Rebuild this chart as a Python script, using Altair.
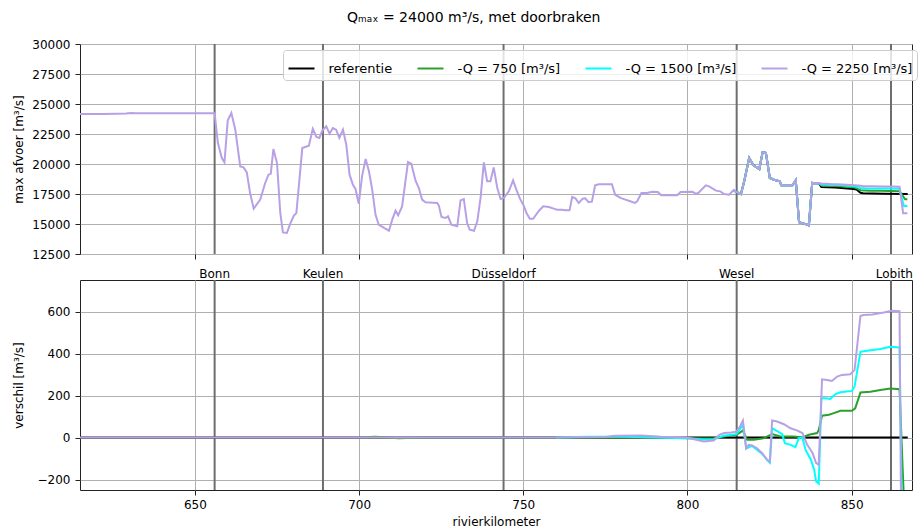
import altair as alt
import pandas as pd

FONT = "DejaVu Sans"

series = ["referentie", "-Q = 750 [m³/s]", "-Q = 1500 [m³/s]", "-Q = 2250 [m³/s]"]
colours = ["#000000", "#2ca02c", "#00ffff", "#b8a0e6"]

city_names = ["Bonn", "Keulen", "Düsseldorf", "Wesel", "Lobith"]
city_km = [656, 689, 744, 815, 862]
label_km = [656, 689, 744, 815, 863]

x_ticks = [650, 700, 750, 800, 850]
top_ticks = [12500, 15000, 17500, 20000, 22500, 25000, 27500, 30000]
bot_ticks = [-200, 0, 200, 400, 600]

# max afvoer, referentie (km 615 - 867)
ref_km = [615, 622, 626, 629, 630.5, 632, 656.0, 657.0, 658.2, 659.0, 660.0, 661.1, 662.3,
          663.8, 664.8, 665.8, 666.8, 667.9, 669.9, 671.4, 672.4, 673.1, 673.9, 675.0, 676.0,
          676.8, 678.0, 679.1, 680.1, 680.9, 682.7, 684.7, 685.9, 687.0, 687.9, 688.8, 690.0,
          691.0, 692.0, 693.0, 694.0, 695.1, 696.1, 697.1, 698.1, 698.9, 699.9, 700.9, 702.0,
          703.0, 704.0, 705.0, 706.0, 707.6, 709.1, 710.1, 711.1, 711.9, 713.1, 714.9, 715.9,
          717.2, 718.2, 719.2, 720.2, 723.8, 724.3, 725.1, 726.3, 727.1, 728.1, 729.9, 730.9,
          731.9, 732.9, 733.7, 735.0, 736.0, 737.0, 738.0, 739.0, 740.0, 741.0, 742.1, 743.1,
          744.1, 745.6, 746.9, 747.9, 749.0, 750.0, 751.0, 752.0, 753.0, 754.8, 756.1, 757.8,
          759.3, 760.3, 761.8, 762.8, 764.1, 764.9, 765.9, 766.9, 768.1, 768.9, 769.9, 770.9,
          771.9, 773.0, 777.0, 778.0, 779.6, 781.1, 782.6, 784.0, 784.7, 786.0, 787.7, 789.3,
          791.0, 792.0, 796.9, 797.9, 801.5, 802.5, 803.3, 805.6, 806.6, 808.7, 810.0, 811.2,
          812.7, 814.0, 815.2, 816.3, 817.3, 818.8, 820.1, 821.9, 822.9, 823.9, 825.1, 826.4,
          828.1, 828.6, 832.0, 833.0, 834.0, 835.5, 837.0, 838.0, 839.1, 840.0, 840.8, 845.0,
          850.6, 851.5, 852.7, 853.5, 860.0, 867.1]
ref_q = [24170, 24170, 24190, 24200, 24250, 24230, 24230, 21750, 20500, 20140, 23640, 24250, 22860,
         19800, 19720, 19300, 17580, 16280, 17030, 18420, 19110, 19190, 21250, 20080, 15920,
         14300, 14250, 15080, 15690, 15920, 21330, 21530, 22920, 22250, 22170, 22780, 23140,
         22530, 23000, 22860, 22170, 22860, 21610, 19110, 18280, 17920, 16690, 18970, 20420,
         19390, 17860, 15780, 14940, 14670, 14440, 15360, 16110, 15720, 16470, 20170, 20030,
         18610, 18000, 17030, 16810, 16750, 16530, 15580, 15500, 15640, 14940, 14810, 16970,
         17080, 15080, 14530, 14440, 15220, 17170, 20140, 18560, 18560, 19720, 18000, 17080,
         17170, 17720, 18640, 17860, 17110, 16610, 15920, 15440, 15440, 16110, 16470, 16420,
         16280, 16190, 16190, 16140, 16140, 17250, 17140, 16750, 17110, 17140, 16810, 16860,
         18220, 18310, 18310, 17440, 17170, 17030, 16890, 16750, 16890, 17580, 17580, 17690,
         17670, 17390, 17390, 17670, 17690, 17530, 17580, 18220, 18140, 17780, 17720, 17500,
         17440, 17810, 17640, 17500, 18560, 20500, 19890, 19580, 20970, 20920, 18830, 18690,
         18560, 18220, 18220, 18640, 15140, 15030, 14890, 18420, 18390, 18420, 18080, 18040,
         17920, 17880, 17600, 17560, 17530, 17500]

# scenarios coincide with the referentie upstream of km 840; below their own values
split_km = 840.0
q750_km = [841.0, 843.1, 844.6, 846.6, 850.1, 851.1, 852.7, 855.7, 858.8, 861.8, 864.6, 866.3, 867.0]
q750 = [18184, 18173, 18161, 18137, 18057, 18039, 17814, 17768, 17761, 17753, 17740, 17060, 17060]
q1500_km = [840.8, 842.0, 843.5, 845.1, 846.6, 850.1, 850.9, 852.7, 854.7, 858.8, 861.8, 864.6, 865.9, 867.0]
q1500 = [18267, 18262, 18244, 18242, 18225, 18152, 18152, 18008, 17968, 17956, 17952, 17939, 16505, 16500]
q2250_km = [841.0, 842.5, 844.0, 845.6, 847.1, 849.6, 850.9, 852.7, 853.7, 856.3, 859.8, 862.3, 864.6, 865.7, 867.0]
q2250 = [18357, 18344, 18319, 18320, 18298, 18251, 18231, 18179, 18143, 18136, 18125, 18123, 18111, 15900, 15900]
# upstream of this km only the topmost (-Q = 2250) line is drawn in the upper panel
hidden_until_km = 814.0

# verschil t.o.v. referentie
d0_km = [615, 867.1]
d0 = [0, 0]
d750_km = [700, 705, 712, 720, 780, 790, 800, 805, 808, 812.3, 814.9, 816.9, 818.2, 820.2,
           823.3, 825.8, 828.3, 832.4, 835.0, 837.0, 839.5, 840.0, 841.0, 843.1, 844.6, 846.6,
           850.1, 851.1, 852.7, 855.7, 858.8, 861.8, 864.6, 866.3, 867.0]
d750 = [0, 3, -3, 0, 0, 0, -3, -5, -3, 8, 13, 33, -11, -11,
        -3, 16, 5, 5, 0, 13, 21, 36, 104, 108, 116, 127,
        127, 139, 214, 218, 226, 233, 230, -440, -440]
d1500_km = [760, 770, 780, 790, 800, 805, 808, 811, 814.9, 816.9, 817.9, 819.7, 822.7,
            824.3, 825.1, 825.8, 827.6, 828.9, 829.7, 831.4, 832.9, 833.9, 835.0, 836.0, 837.6,
            838.6, 839.2, 840.0, 840.8, 842.0, 843.5, 845.1, 846.6, 850.1, 850.9, 852.7, 854.7,
            858.8, 861.8, 864.6, 865.9, 867.0]
d1500 = [0, 3, 3, 0, -3, -10, -8, 8, 16, 60, -53, -40, -77,
         -108, -120, 44, 28, 16, -27, -35, -46, -3, 0, -59, -106,
         -154, -209, -220, 187, 187, 184, 207, 215, 222, 242, 408, 413,
         421, 432, 429, -1000, -1000]
d2250_km = [615, 700, 760, 775, 778, 786, 792, 797, 800, 802, 805, 808, 809.7, 811.2, 813.3,
            814.9, 816.0, 816.9, 817.9, 818.7, 819.7, 821.2, 822.7, 824.3, 825.1, 825.8, 827.3,
            829.4, 831.4, 833.5, 835.0, 836.5, 838.1, 839.2, 840.0, 841.0, 842.5, 844.0, 845.6,
            847.1, 849.6, 850.9, 852.7, 853.7, 856.3, 859.8, 862.3, 864.6, 865.7, 867.0]
d2250 = [0, 0, 0, 2, 8, 10, 3, 2, 0, -8, -19, -14, 13, 21, 24,
         28, 52, 81, -51, -35, -38, -51, -74, -106, -114, 81, 76,
         63, 44, 33, 21, -35, -74, -122, -130, 277, 274, 269, 290,
         298, 301, 321, 579, 583, 586, 595, 603, 601, -1600, -1600]

# ---- tables ----
ref_pairs = list(zip(ref_km, ref_q))
top_rows = [{"km": k, "q": v, "serie": series[0]} for k, v in ref_pairs if k >= hidden_until_km]
for name, tkm, tq in [(series[1], q750_km, q750), (series[2], q1500_km, q1500), (series[3], q2250_km, q2250)]:
    lo = 0 if name == series[3] else hidden_until_km
    top_rows += [{"km": k, "q": v, "serie": name} for k, v in ref_pairs if lo <= k <= split_km]
    top_rows += [{"km": k, "q": v, "serie": name} for k, v in zip(tkm, tq)]
top_df = pd.DataFrame(top_rows)

bot_rows = []
for name, dkm, dv in [(series[0], d0_km, d0), (series[1], d750_km, d750),
                      (series[2], d1500_km, d1500), (series[3], d2250_km, d2250)]:
    bot_rows += [{"km": k, "d": v, "serie": name} for k, v in zip(dkm, dv)]
bot_df = pd.DataFrame(bot_rows)

city_df = pd.DataFrame({"km": city_km, "naam": city_names, "lkm": label_km})

W, H = 832, 210
xs = alt.Scale(domain=[615, 868.4], nice=False, zero=False)
cscale = alt.Scale(domain=series, range=colours)

x_top_axis = alt.Axis(values=x_ticks, labels=False, title=None, grid=True, ticks=True)
x_bot_axis = alt.Axis(values=x_ticks, title="rivierkilometer", grid=True, labelPadding=4, titlePadding=6)

y_top = alt.Y("q:Q", scale=alt.Scale(domain=[12500, 30000], nice=False, zero=False),
              axis=alt.Axis(values=top_ticks, format="d", title="max afvoer [m³/s]",
                            titleX=-58, titleY=H / 2, titleBaseline="alphabetic", labelPadding=5))
y_bot = alt.Y("d:Q", scale=alt.Scale(domain=[-250, 750], nice=False, zero=False),
              axis=alt.Axis(values=bot_ticks, format="d", title="verschil [m³/s]",
                            titleX=-58, titleY=H / 2, titleBaseline="alphabetic", labelPadding=5))

legend = alt.Legend(title=None, orient="none", legendX=203, legendY=6, direction="horizontal",
                    columns=4, symbolType="stroke", symbolSize=676, symbolStrokeWidth=2,
                    labelFont=FONT, labelFontSize=13, labelColor="black", labelOffset=13,
                    columnPadding=21, padding=4.5, fillColor="rgba(255,255,255,0.8)",
                    strokeColor="#cccccc", cornerRadius=3, labelLimit=400)

def panel(df, y_enc, x_axis, leg, with_text):
    rules = alt.Chart(city_df).mark_rule(color="#6e6e6e", strokeWidth=2).encode(
        x=alt.X("km:Q", scale=xs, axis=x_axis))
    layers = [rules]
    for s in series:
        layers.append(
            alt.Chart(df).transform_filter(alt.datum.serie == s)
            .mark_line(strokeWidth=2, clip=True)
            .encode(x=alt.X("km:Q", scale=xs, axis=x_axis), y=y_enc,
                    color=alt.Color("serie:N", scale=cscale, legend=leg))
        )
    if with_text:
        layers.append(
            alt.Chart(city_df).mark_text(font=FONT, fontSize=12, color="black",
                                         baseline="alphabetic", align="center")
            .encode(x=alt.X("lkm:Q", scale=xs, axis=x_axis), y=alt.value(-2), text="naam:N")
        )
    return alt.layer(*layers).properties(width=W, height=H)

top = panel(top_df, y_top, x_top_axis, legend, False)
bottom = panel(bot_df, y_bot, x_bot_axis, None, True)

chart = (
    alt.vconcat(top, bottom, spacing=26, bounds="flush")
    .resolve_scale(color="independent")
    .resolve_legend(color="independent")
    .properties(
        title=alt.TitleParams("Qₘₐₓ = 24000 m³/s, met doorbraken", font=FONT, fontSize=14,
                              fontWeight="normal", color="black", anchor="middle", offset=13, dx=9),
        padding={"left": 11, "top": 10, "right": 4, "bottom": 4},
    )
    .configure_view(stroke="#222222", strokeWidth=1)
    .configure_axis(labelFont=FONT, titleFont=FONT, labelFontSize=12, titleFontSize=12,
                    labelColor="black", titleColor="black", titleFontWeight="normal",
                    domain=False, tickColor="#222222", tickSize=5, tickWidth=1,
                    gridColor="#b0b0b0", gridWidth=1)
)

chart.save("out.html", embed_options={"renderer": "svg", "actions": False})
